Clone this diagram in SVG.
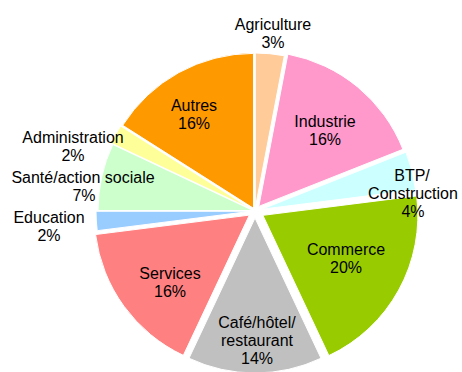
<svg xmlns="http://www.w3.org/2000/svg" width="462" height="372" viewBox="0 0 462 372">
<style>
.s{stroke:#fff;stroke-width:1}
text{font-family:"Liberation Sans",Arial,sans-serif;font-size:16px;fill:#000;text-anchor:middle}
</style>
<rect width="462" height="372" fill="#fff"/>
<g id="agriculture"><path class="s" fill="#FFCC99" d="M255.28,208.01 L255.28,53.01 A155,155 0 0 1 284.32,55.76 Z"/><text x="273" y="30">Agriculture</text><text x="273" y="48">3%</text></g>
<g id="industrie"><path class="s" fill="#FF99CC" d="M258.82,206.38 L287.86,54.13 A155,155 0 0 1 402.94,149.32 Z"/><text x="325" y="127">Industrie</text><text x="325" y="145">16%</text></g>
<g id="commerce"><path class="s" fill="#99CC00" d="M262.89,215.34 L416.67,195.91 A155,155 0 0 1 328.89,355.59 Z"/><text x="346" y="255">Commerce</text><text x="346" y="273">20%</text></g>
<g id="cafe"><path class="s" fill="#C0C0C0" d="M255,218 L321,358.25 A155,155 0 0 1 189,358.25 Z"/><text x="257" y="328">Café/hôtel/</text><text x="257" y="346">restaurant</text><text x="257" y="364">14%</text></g>
<g id="services"><path class="s" fill="#FF8080" d="M249.34,215.11 L183.34,355.36 A155,155 0 0 1 95.56,234.54 Z"/><text x="170" y="279">Services</text><text x="170" y="297">16%</text></g>
<g id="education"><path class="s" fill="#99CCFF" d="M251.01,211.25 L97.23,230.68 A155,155 0 0 1 96.01,211.25 Z"/><text x="49" y="223">Education</text><text x="49" y="241">2%</text></g>
<g id="sante"><path class="s" fill="#CCFFCC" d="M253.05,210.56 L98.05,210.56 A155,155 0 0 1 112.80,144.56 Z"/><text x="83" y="183">Santé/action sociale</text><text x="84" y="201">7%</text></g>
<g id="autres"><path class="s" fill="#FF9900" d="M253.55,208.37 L122.68,125.32 A155,155 0 0 1 253.55,53.37 Z"/><text x="194" y="111">Autres</text><text x="194" y="129">16%</text></g>
<g id="administration"><path class="s" fill="#FFFF99" d="M251.49,209.07 L111.24,143.07 A155,155 0 0 1 120.62,126.02 Z"/><text x="73" y="143">Administration</text><text x="73" y="161">2%</text></g>
<g id="btp"><path class="s" fill="#CCFFFF" d="M261.78,209.26 L405.90,152.20 A155,155 0 0 1 415.56,189.83 Z"/><text x="412" y="181">BTP/</text><text x="413" y="199">Construction</text><text x="413" y="217">4%</text></g>
<g id="connectors"></g>
</svg>
